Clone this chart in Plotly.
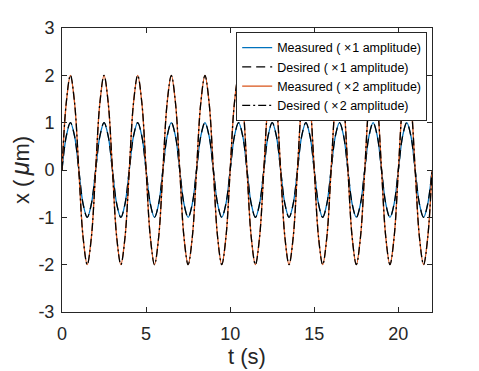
import plotly.graph_objects as go

# time samples (s), every quarter second from 0 to 22
t_s = [i * 0.25 for i in range(89)]

# values (one value per quarter second)
desired_x1 = [0, 0.71, 1, 0.71, 0, -0.71, -1, -0.71,
              0, 0.71, 1, 0.71, 0, -0.71, -1, -0.71,
              0, 0.71, 1, 0.71, 0, -0.71, -1, -0.71,
              0, 0.71, 1, 0.71, 0, -0.71, -1, -0.71,
              0, 0.71, 1, 0.71, 0, -0.71, -1, -0.71,
              0, 0.71, 1, 0.71, 0, -0.71, -1, -0.71,
              0, 0.71, 1, 0.71, 0, -0.71, -1, -0.71,
              0, 0.71, 1, 0.71, 0, -0.71, -1, -0.71,
              0, 0.71, 1, 0.71, 0, -0.71, -1, -0.71,
              0, 0.71, 1, 0.71, 0, -0.71, -1, -0.71,
              0, 0.71, 1, 0.71, 0, -0.71, -1, -0.71,
              0]
measured_x1 = [0, 0.7, 1, 0.71, 0, -0.71, -1, -0.71,
               0, 0.71, 1, 0.71, 0, -0.71, -1, -0.71,
               0, 0.71, 1, 0.71, 0, -0.71, -1, -0.71,
               0, 0.71, 1, 0.71, 0, -0.71, -1, -0.71,
               0, 0.71, 1, 0.71, 0, -0.71, -1, -0.71,
               0, 0.71, 1, 0.71, 0, -0.71, -1, -0.71,
               0, 0.71, 1, 0.71, 0, -0.71, -1, -0.71,
               0, 0.71, 1, 0.71, 0, -0.71, -1, -0.71,
               0, 0.71, 1, 0.71, 0, -0.71, -1, -0.71,
               0, 0.71, 1, 0.71, 0, -0.71, -1, -0.71,
               0, 0.71, 1, 0.71, 0, -0.71, -1, -0.71,
               0]
desired_x2 = [0, 1.41, 2, 1.41, 0, -1.41, -2, -1.41,
              0, 1.41, 2, 1.41, 0, -1.41, -2, -1.41,
              0, 1.41, 2, 1.41, 0, -1.41, -2, -1.41,
              0, 1.41, 2, 1.41, 0, -1.41, -2, -1.41,
              0, 1.41, 2, 1.41, 0, -1.41, -2, -1.41,
              0, 1.41, 2, 1.41, 0, -1.41, -2, -1.41,
              0, 1.41, 2, 1.41, 0, -1.41, -2, -1.41,
              0, 1.41, 2, 1.41, 0, -1.41, -2, -1.41,
              0, 1.41, 2, 1.41, 0, -1.41, -2, -1.41,
              0, 1.41, 2, 1.41, 0, -1.41, -2, -1.41,
              0, 1.41, 2, 1.41, 0, -1.41, -2, -1.41,
              0]
measured_x2 = [0, 1.4, 2, 1.41, 0, -1.41, -2, -1.41,
               0, 1.41, 2, 1.41, 0, -1.41, -2, -1.41,
               0, 1.41, 2, 1.41, 0, -1.41, -2, -1.41,
               0, 1.41, 2, 1.41, 0, -1.41, -2, -1.41,
               0, 1.41, 2, 1.41, 0, -1.41, -2, -1.41,
               0, 1.41, 2, 1.41, 0, -1.41, -2, -1.41,
               0, 1.41, 2, 1.41, 0, -1.41, -2, -1.41,
               0, 1.41, 2, 1.41, 0, -1.41, -2, -1.41,
               0, 1.41, 2, 1.41, 0, -1.41, -2, -1.41,
               0, 1.41, 2, 1.41, 0, -1.41, -2, -1.41,
               0, 1.41, 2, 1.41, 0, -1.41, -2, -1.41,
               0]

x_ticks = [0, 5, 10, 15, 20]
x_tick_labels = ["0", "5", "10", "15", "20"]
y_ticks = [-3, -2, -1, 0, 1, 2, 3]
y_tick_labels = ["-3", "-2", "-1", "0", "1", "2", "3"]
series_names = ["Measured ( \u00d7\u200a1 amplitude)",
                "Desired ( \u00d7\u200a1 amplitude)",
                "Measured ( \u00d7\u200a2 amplitude)",
                "Desired ( \u00d7\u200a2 amplitude)"]

FONT = "Liberation Sans, Arial, Helvetica, sans-serif"
AXC = "#262626"

fig = go.Figure()
fig.add_trace(go.Scatter(x=t_s, y=measured_x1, mode="lines", name=series_names[0],
                         line=dict(color="#0072BD", width=1.3, shape="spline")))
fig.add_trace(go.Scatter(x=t_s, y=desired_x1, mode="lines", name=series_names[1],
                         line=dict(color="black", width=1.3, dash="9px,5px", shape="spline")))
fig.add_trace(go.Scatter(x=t_s, y=measured_x2, mode="lines", name=series_names[2],
                         line=dict(color="#D95319", width=1.3, shape="spline")))
fig.add_trace(go.Scatter(x=t_s, y=desired_x2, mode="lines", name=series_names[3],
                         line=dict(color="black", width=1.3, dash="8px,3px,2px,3px", shape="spline")))

axis_common = dict(showgrid=False, zeroline=False, showline=True, linecolor=AXC,
                   linewidth=1, mirror="ticks", ticks="inside", ticklen=5,
                   tickcolor=AXC, automargin=False,
                   tickfont=dict(family=FONT, size=18, color=AXC))

fig.update_xaxes(range=[0, 22], tickvals=x_ticks, ticktext=x_tick_labels,
                 ticklabelstandoff=5, **axis_common,
                 title=dict(text="t (s)", font=dict(family=FONT, size=22, color=AXC), standoff=4))
fig.update_yaxes(range=[-3, 3], tickvals=y_ticks, ticktext=y_tick_labels,
                 ticklabelstandoff=3, **axis_common,
                 title=dict(text="x (\u2009<i><span style='font-size:25px'>\u03bc</span></i>m)",
                            font=dict(family=FONT, size=22, color=AXC), standoff=2))

fig.update_layout(
    width=479, height=371,
    margin=dict(l=62, r=47, t=28, b=59),
    paper_bgcolor="white", plot_bgcolor="white",
    showlegend=True,
    legend=dict(x=0.987, y=0.986, xanchor="right", yanchor="top",
                bgcolor="white", bordercolor=AXC, borderwidth=1,
                font=dict(family=FONT, size=12.5, color="black"),
                tracegroupgap=0, itemwidth=30),
)

fig.write_html("out.html", config={"displayModeBar": False},
               post_script="document.body.style.margin='0';document.body.style.padding='0';")
